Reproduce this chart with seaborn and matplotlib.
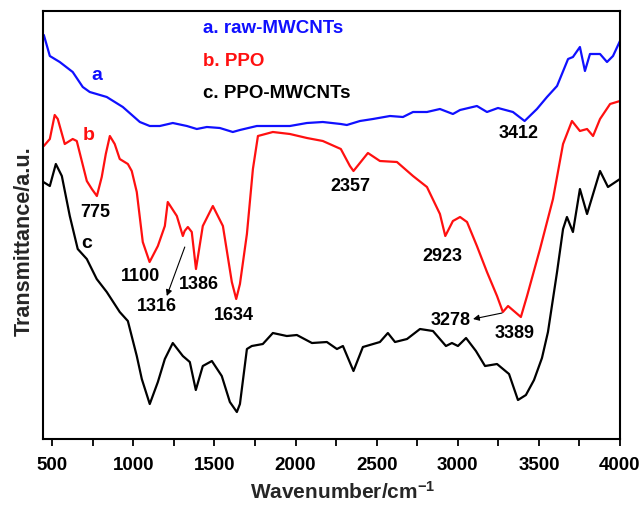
import numpy as np
import pandas as pd
import matplotlib
matplotlib.use("Agg")
import matplotlib.pyplot as plt
import seaborn as sns

# FTIR spectra (wavenumber in cm^-1, transmittance in arbitrary offset units)
wn_a = [448, 485, 546, 626, 688, 731, 836, 935, 1040, 1101, 1163, 1243, 1330, 1391,
        1453, 1533, 1613, 1657, 1761, 1860, 1965, 2070, 2168, 2279, 2316, 2397, 2477,
        2582, 2662, 2724, 2810, 2890, 2970, 3014, 3118, 3180, 3248, 3340, 3412, 3488,
        3550, 3612, 3680, 3710, 3753, 3784, 3815, 3877, 3920, 3957, 4000]
t_a = [404, 383, 377, 367, 352, 347, 342, 332, 317, 313, 313, 316, 313, 310,
       312, 311, 307, 309, 313, 313, 313, 316, 317, 315, 314, 318, 320,
       323, 322, 327, 327, 330, 325, 329, 333, 327, 331, 327, 318, 330,
       342, 353, 380, 382, 392, 368, 385, 385, 377, 383, 398]

wn_b = [448, 485, 515, 534, 577, 626, 651, 682, 713, 744, 775, 805, 830, 855, 885,
        916, 966, 990, 1021, 1058, 1100, 1151, 1194, 1212, 1268, 1305, 1316, 1336,
        1360, 1386, 1428, 1490, 1552, 1607, 1634, 1657, 1700, 1737, 1768, 1860, 1965,
        2070, 2168, 2279, 2335, 2357, 2446, 2520, 2625, 2724, 2810, 2890, 2923, 2970,
        3014, 3057, 3118, 3180, 3242, 3278, 3310, 3389, 3427, 3507, 3587, 3649, 3704,
        3753, 3797, 3834, 3877, 3939, 4000]
t_b = [293, 300, 324, 320, 295, 300, 298, 278, 258, 250, 243, 262, 285, 303, 295,
       280, 275, 268, 247, 197, 177, 193, 213, 237, 223, 203, 208, 212,
       207, 170, 213, 233, 213, 157, 140, 155, 205, 270, 303, 307, 305,
       301, 298, 290, 273, 268, 286, 278, 277, 263, 252, 225, 203, 218,
       222, 217, 193, 167, 143, 127, 133, 122, 143, 190, 240, 295, 318,
       308, 310, 303, 320, 335, 338]

wn_c = [445, 485, 522, 559, 608, 657, 713, 774, 836, 916, 966, 1021, 1052, 1101,
        1151, 1194, 1243, 1305, 1348, 1385, 1428, 1484, 1545, 1595, 1638, 1657, 1700,
        1730, 1798, 1860, 1946, 2008, 2101, 2193, 2255, 2292, 2357, 2415, 2520, 2569,
        2613, 2687, 2767, 2847, 2927, 2964, 3001, 3051, 3112, 3168, 3242, 3316, 3371,
        3420, 3470, 3519, 3556, 3612, 3649, 3673, 3710, 3753, 3797, 3877, 3926, 4000]
t_c = [257, 253, 275, 263, 223, 190, 180, 160, 147, 127, 118, 83, 60, 35,
       57, 80, 96, 83, 77, 49, 73, 78, 63, 37, 27, 35, 90,
       93, 95, 106, 103, 104, 96, 97, 90, 93, 68, 92, 97, 106,
       97, 100, 110, 108, 93, 96, 93, 101, 88, 73, 75, 65, 39,
       44, 59, 81, 107, 167, 210, 222, 207, 250, 225, 268, 252, 260]

series_names = ["a", "b", "c"]
legend_labels = ["a. raw-MWCNTs", "b. PPO", "c. PPO-MWCNTs"]
colors = ["#1010ff", "#ff1010", "#000000"]

# peak labels: (text, wavenumber, transmittance)
peak_labels = [("775", 762, 227.5), ("1100", 1046, 164), ("1386", 1404, 156),
               ("1316", 1144, 133.5), ("1634", 1620, 125), ("2357", 2335, 253.5),
               ("2923", 2905, 183.5), ("3278", 2958, 120), ("3389", 3353, 106.5),
               ("3412", 3376, 306.5)]
curve_tags = [("a", 774, 364), ("b", 725, 304), ("c", 713, 197)]

df = pd.concat([
    pd.DataFrame({"wn": wn_a, "T": t_a, "sample": "a"}),
    pd.DataFrame({"wn": wn_b, "T": t_b, "sample": "b"}),
    pd.DataFrame({"wn": wn_c, "T": t_c, "sample": "c"}),
], ignore_index=True)

sns.set_theme(style="ticks")
plt.rcParams["font.family"] = ["Liberation Sans", "DejaVu Sans"]
plt.rcParams["font.weight"] = "bold"
plt.rcParams["mathtext.fontset"] = "custom"
plt.rcParams["mathtext.rm"] = "Liberation Sans:bold"
plt.rcParams["mathtext.bf"] = "Liberation Sans:bold"
plt.rcParams["mathtext.default"] = "bf"

fig = plt.figure(figsize=(6.44, 5.06), dpi=100)
ax = fig.add_axes([0.0668, 0.1304, 0.8959, 0.8459])

sns.lineplot(data=df, x="wn", y="T", hue="sample", palette=dict(zip(series_names, colors)),
             sort=False, estimator=None, linewidth=1.6, legend=False, ax=ax)

ax.set_xlim(443, 4000)
ax.set_ylim(0, 428)
ax.set_xticks(np.arange(500, 4001, 500))
ax.set_xticks(np.arange(750, 4000, 500), minor=True)
ax.set_yticks([])
ax.tick_params(axis="x", which="both", direction="out", length=5, width=1.3,
               labelsize=13.5, pad=7, colors="black")
for lab in ax.get_xticklabels():
    lab.set_fontweight("bold")
for sp in ax.spines.values():
    sp.set_linewidth(1.5)
    sp.set_color("black")
    sp.set_visible(True)

ax.set_xlabel(r"Wavenumber/cm$^{-1}$", fontsize=15, fontweight="bold")
ax.set_ylabel("Transmittance/a.u.", fontsize=15.5, fontweight="bold")
ax.xaxis.set_label_coords(0.52, -0.095)
ax.yaxis.set_label_coords(-0.014, 0.465)

# legend-like labels in curve colours
leg_y = [411, 378.5, 346]
for txt, col, yy in zip(legend_labels, colors, leg_y):
    ax.text(1428, yy, txt, color=col, fontsize=13.5, fontweight="bold",
            ha="left", va="center")

for txt, x, y in curve_tags:
    col = colors[series_names.index(txt)]
    ax.text(x, y, txt, color=col, fontsize=14, fontweight="bold", ha="center", va="center")

for txt, x, y in peak_labels:
    ax.text(x, y, txt, color="black", fontsize=13, fontweight="bold", ha="center", va="center")

arrow_kw = dict(arrowstyle="-|>", color="black", lw=0.8, mutation_scale=9,
                shrinkA=0, shrinkB=0)
ax.annotate("", xy=(1206, 143), xytext=(1317, 192), arrowprops=arrow_kw)
ax.annotate("", xy=(3094, 120), xytext=(3273, 126), arrowprops=arrow_kw)

fig.savefig("out.png", dpi=100)
